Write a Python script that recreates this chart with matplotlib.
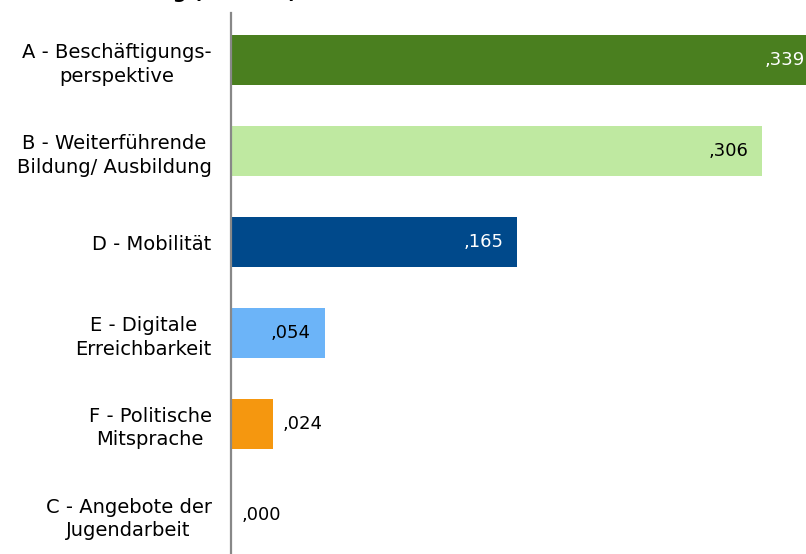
import matplotlib.pyplot as plt
import numpy as np

plt.rcParams['font.family'] = ['DejaVu Sans']

categories = ['A - Beschäftigungs-\nperspektive',
              'B - Weiterführende\nBildung/ Ausbildung',
              'D - Mobilität',
              'E - Digitale\nErreichbarkeit',
              'F - Politische\nMitsprache',
              'C - Angebote der\nJugendarbeit']
values = [0.339, 0.306, 0.165, 0.054, 0.024, 0.000]
labels = [',339', ',306', ',165', ',054', ',024', ',000']
colors = ['#4a7f1f', '#bfe9a1', '#00498b', '#6cb4f8', '#f5970f', '#ffffff']
label_inside = [True, True, True, True, False, False]
label_colors = ['white', 'black', 'white', 'black', 'black', 'black']

fig = plt.figure(figsize=(8.06, 5.54), dpi=100)
ax = fig.add_axes([231 / 806, 0, 1 - 231 / 806, 541 / 554])

y = np.arange(len(categories))
ax.barh(y, values, height=0.55, color=colors)
ax.set_xlim(0, 575 / 1735)
ax.set_ylim(5.43, -0.52)

for yi, v, lab, inside, c in zip(y, values, labels, label_inside, label_colors):
    if inside:
        ax.annotate(lab, (v, yi), xytext=(-10, 0), textcoords='offset points',
                    ha='right', va='center', color=c, fontsize=13,
                    annotation_clip=False)
    else:
        ax.annotate(lab, (v, yi), xytext=(7.5, 0), textcoords='offset points',
                    ha='left', va='center', color=c, fontsize=13,
                    annotation_clip=False)

ax.set_yticks(y)
ax.set_yticklabels(categories, fontsize=14, multialignment='center',
                   linespacing=1.3)
ax.tick_params(axis='y', length=0, pad=14)
ax.set_xticks([])
for s in ['top', 'right', 'bottom']:
    ax.spines[s].set_visible(False)
ax.spines['left'].set_color('#888888')
ax.spines['left'].set_linewidth(1.6)

# title is cut off at the top of the image, only descenders show
fig.text(0.07, 1 + 2 / 554, 'Gewichtung (Einfluss)', fontsize=14,
         fontweight='bold', ha='left', va='baseline')

fig.savefig('out.png', dpi=100)
